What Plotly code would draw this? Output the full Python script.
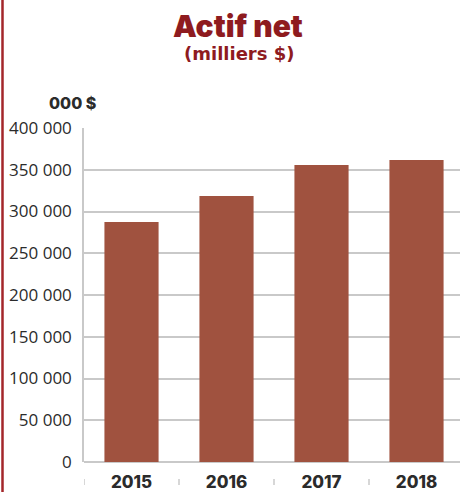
import plotly.graph_objects as go

years = ["2015", "2016", "2017", "2018"]
actif_net = [287400, 318500, 355700, 361700]
y_ticks = [0, 50000, 100000, 150000, 200000, 250000, 300000, 350000, 400000]
y_tick_labels = ["0", "50 000", "100 000", "150 000", "200 000", "250 000", "300 000", "350 000", "400 000"]

bar_color = "#A0523F"
title_color = "#8E1B1F"
grid_color = "#C9C9C9"
text_color = "#2b2b2b"

fig = go.Figure()
fig.add_trace(go.Bar(x=years, y=actif_net, marker=dict(color=bar_color, line=dict(width=0)),
                     width=0.57, hoverinfo="skip"))

W, H = 460, 492
ml, mr, mt, mb = 84, 0, 128, 30
pw = W - ml - mr
ph = H - mt - mb

shapes = []
# left decorative red line
shapes.append(dict(type="line", xref="paper", yref="paper",
                   x0=-(ml - 2.5) / pw, x1=-(ml - 2.5) / pw, y0=-mb / ph, y1=(ph + mt) / ph,
                   line=dict(color="#A3262A", width=2.5)))
# category boundary ticks under the labels
for b in [-0.5, 0.5, 1.5, 2.5]:
    shapes.append(dict(type="line", xref="x", yref="paper", x0=b, x1=b,
                       y0=-17 / ph, y1=-23 / ph, line=dict(color="#BDBDBD", width=1.2)))

fig.update_layout(
    width=W, height=H,
    margin=dict(l=ml, r=mr, t=mt, b=mb, autoexpand=False),
    plot_bgcolor="white", paper_bgcolor="white",
    showlegend=False,
    shapes=shapes,
    annotations=[
        dict(text="Actif net", x=(238 - ml) / pw, y=(ph + mt - 26) / ph, xref="paper", yref="paper",
             showarrow=False, xanchor="center", yanchor="middle",
             font=dict(family="Inter", size=30, color=title_color, weight=900)),
        dict(text="<b>(milliers $)</b>", x=(239 - ml) / pw, y=(ph + mt - 54) / ph, xref="paper", yref="paper",
             showarrow=False, xanchor="center", yanchor="middle",
             font=dict(family="DejaVu Sans", size=18, color=title_color)),
        dict(text="000 $", x=(98 - ml) / pw, y=(ph + mt - 103) / ph, xref="paper", yref="paper",
             showarrow=False, xanchor="right", yanchor="middle",
             font=dict(family="Inter", size=16, color=text_color, weight=800)),
    ],
    xaxis=dict(range=[-0.5, -0.5 + pw / 95.0], showgrid=False, showline=False, ticks="",
               ticklabelstandoff=8,
               tickfont=dict(family="Inter", size=17, color=text_color, weight=800),
               fixedrange=True),
    yaxis=dict(range=[0, 400000], tickvals=y_ticks, ticktext=y_tick_labels,
               showgrid=True, gridcolor=grid_color, gridwidth=1.5,
               zeroline=True, zerolinecolor=grid_color, zerolinewidth=1.5,
               showline=True, linecolor=grid_color, linewidth=1.5,
               ticks="", ticklabelstandoff=7,
               tickfont=dict(family="Open Sans", size=17, color=text_color),
               fixedrange=True),
    bargap=0.43,
)

fig.write_html("out.html", config={"displayModeBar": False},
               post_script="document.body.style.margin='0';")
